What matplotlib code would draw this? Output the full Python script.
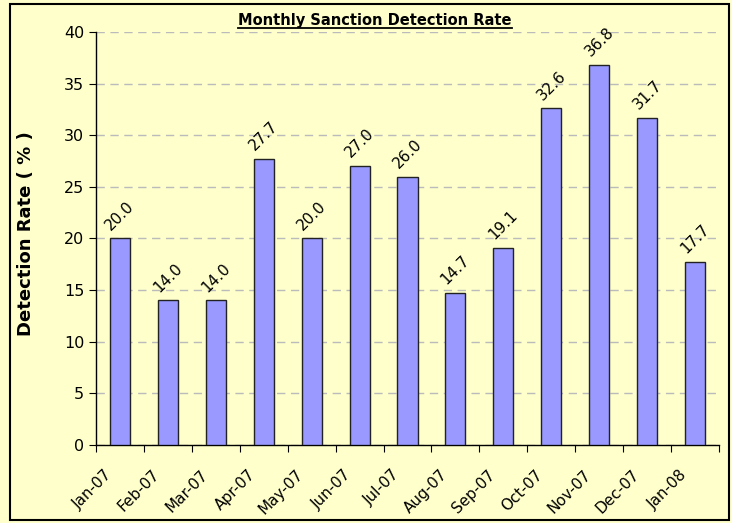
import matplotlib
matplotlib.use("Agg")
import matplotlib.pyplot as plt
from matplotlib.patches import Rectangle
from matplotlib.transforms import ScaledTranslation

# ----------------------- Data -----------------------
months = ["Jan-07", "Feb-07", "Mar-07", "Apr-07", "May-07", "Jun-07", "Jul-07",
          "Aug-07", "Sep-07", "Oct-07", "Nov-07", "Dec-07", "Jan-08"]
rates = [20.0, 14.0, 14.0, 27.7, 20.0, 27.0, 26.0, 14.7, 19.1, 32.6, 36.8, 31.7, 17.7]
y_ticks = [0, 5, 10, 15, 20, 25, 30, 35, 40]

bg = "#FFFFCC"
bar_color = "#9999FF"

fig = plt.figure(figsize=(7.32, 5.23), dpi=100, facecolor=bg)
ax = fig.add_axes([96 / 732, 1 - 445 / 523, (719 - 96) / 732, (445 - 32) / 523])
ax.set_facecolor(bg)

# outer chart border
fig.patches.append(Rectangle((10 / 732, 1 - 520 / 523), 719 / 732, 516 / 523,
                             transform=fig.transFigure, fill=False,
                             edgecolor="black", linewidth=1.5))

x = list(range(len(months)))
ax.bar(x, rates, width=0.42, color=bar_color, edgecolor="#222222", linewidth=1, zorder=3)

# data labels
for xi, v in zip(x, rates):
    ax.annotate(f"{v:.1f}", (xi, v), xytext=(0, 16.5), textcoords="offset points",
                rotation=45, ha="center", va="center", rotation_mode="anchor",
                fontsize=11, color="black")

ax.set_xlim(-0.5, len(months) - 0.5)
ax.set_ylim(0, 40)
ax.set_yticks(y_ticks)
ax.yaxis.grid(True, linestyle=(0, (6, 4)), color="#BBBBBB", linewidth=1, zorder=0)

# ticks between categories, labels at centers
ax.set_xticks([i - 0.5 for i in range(len(months) + 1)])
ax.set_xticklabels([])
ax.set_xticks(x, minor=True)
ax.set_xticklabels(months, minor=True, rotation=45, ha="right",
                   rotation_mode="anchor", fontsize=11)
ax.tick_params(axis="x", which="minor", length=0, pad=10)
ax.tick_params(axis="x", which="major", length=5, direction="out")
ax.tick_params(axis="y", length=5, direction="out", labelsize=11.5)
shift = ScaledTranslation(-16 / 100, -8 / 100, fig.dpi_scale_trans)
for lbl in ax.get_xticklabels(minor=True):
    lbl.set_transform(lbl.get_transform() + shift)

for s in ["top", "right"]:
    ax.spines[s].set_visible(False)
for s in ["left", "bottom"]:
    ax.spines[s].set_color("black")
    ax.spines[s].set_linewidth(1)

ax.set_ylabel("Detection Rate ( % )", fontsize=13, fontweight="bold")
ax.yaxis.set_label_coords((35 - 96) / 623, 0.513)

t = fig.text(375 / 732, 1 - 21 / 523, "Monthly Sanction Detection Rate",
             ha="center", va="center", fontsize=10.5, fontweight="bold")
# underline the title
fig.canvas.draw()
bb = t.get_window_extent().transformed(fig.transFigure.inverted())
fig.add_artist(plt.Line2D([bb.x0, bb.x1], [bb.y0 + 0.001, bb.y0 + 0.001],
                          transform=fig.transFigure, color="black", linewidth=1.3))

fig.savefig("out.png", dpi=100, facecolor=bg)
